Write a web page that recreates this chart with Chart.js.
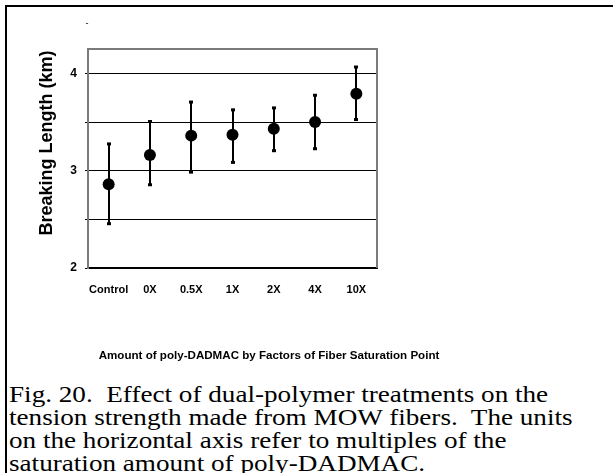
<!DOCTYPE html>
<html>
<head>
<meta charset="utf-8">
<script src="https://cdn.jsdelivr.net/npm/chart.js@4.4.0/dist/chart.umd.min.js"></script>
<style>
    html, body { margin: 0; padding: 0; background: #fff; }
    body { width: 613px; height: 473px; position: relative; overflow: hidden; }
    #frame {
        position: absolute; left: 5px; top: 5px; right: -10px; bottom: -10px;
        border-top: 2px solid #000; border-left: 2px solid #000;
    }
    #chartBox { position: absolute; left: 0; top: 0; width: 613px; height: 380px; }
    #caption {
        position: absolute; left: 9px; top: 383px;
        font-family: "Liberation Serif", "Times New Roman", serif;
        font-size: 23px; line-height: 23px; color: #000; white-space: nowrap;
        transform: scaleX(1.18); transform-origin: 0 0;
    }
</style>
</head>
<body>
<div id="frame"></div>
<div id="chartBox"><canvas id="chart" width="613" height="380"></canvas></div>
<div id="caption">Fig. 20.&nbsp; Effect of dual-polymer treatments on the<br>tension strength made from MOW fibers.&nbsp; The units<br>on the horizontal axis refer to multiples of the<br>saturation amount of poly-DADMAC.</div>

<script>
// Data
const categories = ['Control', '0X', '0.5X', '1X', '2X', '4X', '10X'];
const means = [2.86, 3.16, 3.36, 3.37, 3.43, 3.50, 3.79];
const upper = [3.28, 3.51, 3.71, 3.63, 3.65, 3.78, 4.07];
const lower = [2.45, 2.85, 2.98, 3.08, 3.20, 3.22, 3.52];
const yTicks = [2, 2.5, 3, 3.5, 4];

const yTitle = 'Breaking Length (km)';
const xTitle = 'Amount of poly-DADMAC by Factors of Fiber Saturation Point';

// Error bars + plot frame, drawn under the dots
const errorBarsPlugin = {
    id: 'errorBars',
    beforeDatasetsDraw(chart) {
        const ctx = chart.ctx;
        const area = chart.chartArea;
        const x = chart.scales.x;
        const y = chart.scales.y;

        ctx.save();
        // gray frame (top, right, left)
        ctx.strokeStyle = '#7a7a7a';
        ctx.lineWidth = 2;
        ctx.beginPath();
        ctx.moveTo(area.left, area.bottom);
        ctx.lineTo(area.left, area.top);
        ctx.lineTo(area.right, area.top);
        ctx.lineTo(area.right, area.bottom);
        ctx.stroke();

        ctx.strokeStyle = '#000';
        ctx.fillStyle = '#000';
        ctx.lineWidth = 2;
        categories.forEach((c, i) => {
            const px = Math.round(x.getPixelForValue(i));
            const top = y.getPixelForValue(upper[i]);
            const bot = y.getPixelForValue(lower[i]);
            ctx.beginPath();
            ctx.moveTo(px, top);
            ctx.lineTo(px, bot);
            ctx.stroke();
            ctx.fillRect(px - 2, top - 1, 4, 3);
            ctx.fillRect(px - 2, bot - 2, 4, 3);
        });
        ctx.restore();
    },
    afterDraw(chart) {
        const ctx = chart.ctx;
        ctx.save();
        ctx.fillStyle = '#000';
        ctx.textAlign = 'center';
        ctx.textBaseline = 'middle';

        // y axis title
        ctx.translate(47, 143);
        ctx.rotate(-Math.PI / 2);
        ctx.font = 'bold 18px "Liberation Sans", Arial, sans-serif';
        ctx.fillText(yTitle, 0, 0);
        ctx.restore();

        ctx.save();
        ctx.fillStyle = '#000';
        ctx.textAlign = 'center';
        ctx.textBaseline = 'middle';
        ctx.font = 'bold 11.6px "Liberation Sans", Arial, sans-serif';
        ctx.fillText(xTitle, 269, 356);
        ctx.font = '9px "Liberation Sans", Arial, sans-serif';
        ctx.fillText('-', 87, 24);
        ctx.restore();
    }
};

const ctx = document.getElementById('chart').getContext('2d');
const chart = new Chart(ctx, {
    type: 'line',
    data: {
        labels: categories,
        datasets: [{
            data: means,
            showLine: false,
            pointRadius: 6,
            pointHoverRadius: 6,
            pointBackgroundColor: '#000',
            pointBorderColor: '#000',
            pointBorderWidth: 0
        }]
    },
    options: {
        responsive: false,
        animation: false,
        events: [],
        layout: {
            padding: { left: 0, top: 49, right: 236, bottom: 0 }
        },
        plugins: {
            legend: { display: false },
            tooltip: { enabled: false }
        },
        scales: {
            x: {
                type: 'category',
                offset: true,
                grid: { display: false, drawTicks: false, tickLength: 0 },
                border: { display: true, color: '#000', width: 2 },
                ticks: {
                    color: '#000',
                    padding: 15,
                    maxRotation: 0,
                    autoSkip: false,
                    font: { family: '"Liberation Sans", Arial, sans-serif', size: 11, weight: 'bold' }
                },
                afterFit(scale) { scale.height = 380 - 268; }
            },
            y: {
                min: 2,
                max: 4.25,
                grid: { color: '#000', lineWidth: 1, tickLength: 3, drawTicks: true },
                border: { display: true, color: '#7a7a7a', width: 2 },
                ticks: {
                    stepSize: 0.5,
                    color: '#000',
                    padding: 8,
                    font: { family: '"Liberation Sans", Arial, sans-serif', size: 12, weight: 'bold' },
                    callback: (v) => Number.isInteger(v) ? v : ''
                },
                afterBuildTicks(scale) {
                    scale.ticks = yTicks.map(v => ({ value: v }));
                },
                afterFit(scale) { scale.width = 88; }
            }
        }
    },
    plugins: [errorBarsPlugin]
});
</script>
</body>
</html>
